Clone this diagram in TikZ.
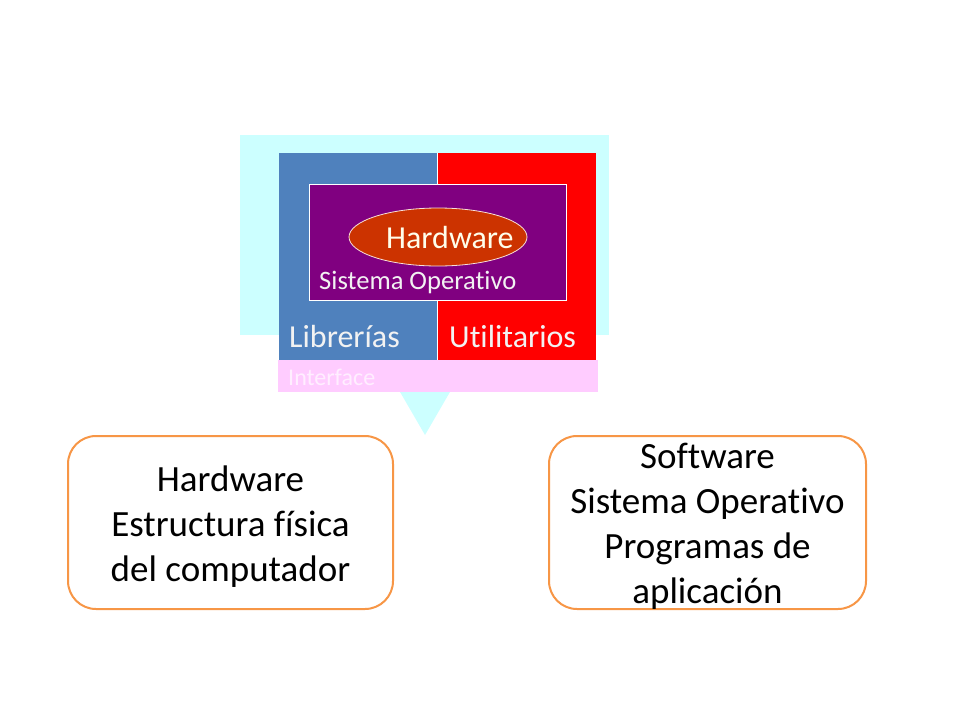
\documentclass[tikz,border=0pt]{standalone}
\usepackage{fontspec}
\setmainfont{Carlito}[Ligatures={NoCommon,NoContextual,NoRequired}]
\usetikzlibrary{shapes.geometric}
\definecolor{cyanbg}{HTML}{CCFFFF}
\definecolor{libblue}{HTML}{4F81BD}
\definecolor{utilred}{HTML}{FF0000}
\definecolor{sopurple}{HTML}{800080}
\definecolor{hwfill}{HTML}{CC3300}
\definecolor{ifpink}{HTML}{FFCCFF}
\definecolor{boxorange}{HTML}{F79646}
\definecolor{lighttext}{HTML}{F2F2F2}
\definecolor{iftext}{HTML}{FFEEFF}
\tikzset{
  panel/.style={draw=none, inner sep=0pt, anchor=north west},
  lbl/.style={inner sep=0pt, text=lighttext, anchor=west},
  infobox/.style={draw=boxorange, line width=2pt, rounded corners=28pt, fill=white, inner sep=0pt, anchor=north west},
  infotext/.style={align=center, font=\fontsize{37}{45}\selectfont, text=black, inner sep=0pt}
}
\begin{document}
\begin{tikzpicture}[x=1pt,y=-1pt]
\useasboundingbox (0,0) rectangle (960,720);
% callout
\fill[cyanbg] (240,135) rectangle (609,335);
\fill[cyanbg] (367,335) -- (483,335) -- (425,435) -- cycle;
\coordinate (tip) at (425,435);
% panels
\node[panel, fill=libblue, minimum width=158pt, minimum height=207pt] (lib) at (279,153) {};
\node[panel, fill=utilred, minimum width=159pt, minimum height=207pt] (util) at (437,153) {};
\draw[white, line width=0.6pt] (437,153) -- (437,360);
\node[panel, fill=sopurple, draw=white, line width=0.8pt, minimum width=257pt, minimum height=116pt] (so) at (309,184) {};
\node[ellipse, fill=hwfill, draw=white!85!hwfill, line width=0.8pt, minimum width=178pt, minimum height=58pt, inner sep=0pt] (hw) at (438,237) {};
\node[panel, fill=ifpink, minimum width=320pt, minimum height=32pt] (if) at (278,360) {};
% labels
\node[lbl, text=white!92!yellow, font=\fontsize{32}{38}\selectfont] (hwl) at (386,238) {Hardware};
\node[lbl, font=\fontsize{26.6}{32}\selectfont] (sol) at (319,282) {Sistema Operativo};
\node[lbl, font=\fontsize{32}{38}\selectfont] (libl) at (289,337) {Librerías};
\node[lbl, font=\fontsize{32}{38}\selectfont] (utill) at (449,337) {Utilitarios};
\node[lbl, text=iftext, font=\fontsize{24}{28}\selectfont] (ifl) at (288,377) {Interface};
% bottom boxes
\node[infobox, minimum width=325pt, minimum height=173pt] (hwbox) at (67,435) {};
\node[infotext, yshift=-4pt] at (hwbox.center) {Hardware\\Estructura física\\del computador};
\node[infobox, minimum width=317pt, minimum height=173pt] (swbox) at (548,435) {};
\node[infotext, yshift=-4pt] at (swbox.center) {Software\\Sistema Operativo\\Programas de\\aplicación};
\end{tikzpicture}
\end{document}
